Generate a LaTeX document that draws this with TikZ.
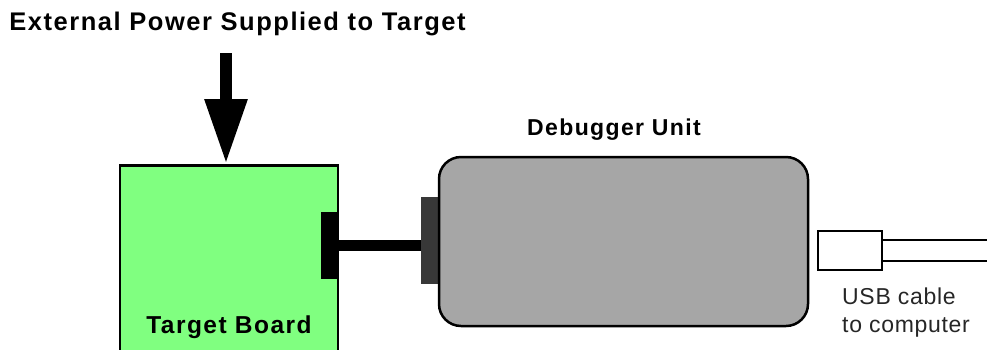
\documentclass[tikz,border=0pt]{standalone}
\usepackage{fontspec}
\setmainfont{Liberation Sans}
\newfontfamily\spacedfont[LetterSpace=6]{Liberation Sans}
\newfontfamily\notefont[LetterSpace=3]{Liberation Sans}
\usetikzlibrary{arrows.meta,positioning}

\definecolor{boardgreen}{HTML}{80FF80}
\definecolor{unitgrey}{HTML}{A6A6A6}
\definecolor{portgrey}{HTML}{383838}

\begin{document}
\begin{tikzpicture}[x=1pt, y=-1pt, heading/.style={font=\spacedfont\bfseries\fontsize{23}{27}\selectfont, inner sep=0pt}, block/.style={rectangle, draw, line width=2.5pt, inner sep=0pt}, port/.style={rectangle, inner sep=0pt}]

  \useasboundingbox (0,0) rectangle (987,349);
  \clip (0,0) rectangle (987,349);

  \node[heading, font=\spacedfont\bfseries\fontsize{25.5}{29}\selectfont] (title) at (237.5,24) {External Power Supplied to Target};
  \coordinate (powertop) at (226,53);

  \node[block, fill=boardgreen, minimum width=218pt, minimum height=220pt, anchor=north] (board) at (229,164) {};
  \node[heading, font=\spacedfont\bfseries\fontsize{24.5}{28}\selectfont] (boardlabel) at (229,327) {Target Board};
  \node[port, fill=black, minimum width=17pt, minimum height=67pt] (boardport) at (329.5,245.5) {};

  \node[port, fill=portgrey, minimum width=19pt, minimum height=87pt] (unitport) at (430.5,240.5) {};
  \node[block, fill=unitgrey, rounded corners=22pt, minimum width=369pt, minimum height=169pt] (unit) at (623.5,241.5) {};
  \node[heading] (unitlabel) at (614,130) {Debugger Unit};

  \node[block, fill=white, minimum width=64pt, minimum height=39pt] (usb) at (850,250.5) {};
  \coordinate (cableend) at (992,251.5);
  \node[anchor=north west, align=left, inner sep=0pt, text=black!85, font=\notefont\fontsize{23}{28}\selectfont] (usblabel) at (842,288) {USB cable\\to computer};

  \draw[line width=12pt, -{Triangle[width=40pt,length=65pt]}] (powertop) -- (powertop |- board.north);
  \draw[line width=11pt] (boardport.east) -- (boardport.east -| unitport.west);
  \draw[line width=2.5pt] ([yshift=10.5pt]usb.east) -- ([yshift=10.5pt]usb.east -| cableend);
  \draw[line width=2.5pt] ([yshift=-10.5pt]usb.east) -- ([yshift=-10.5pt]usb.east -| cableend);

\end{tikzpicture}
\end{document}
